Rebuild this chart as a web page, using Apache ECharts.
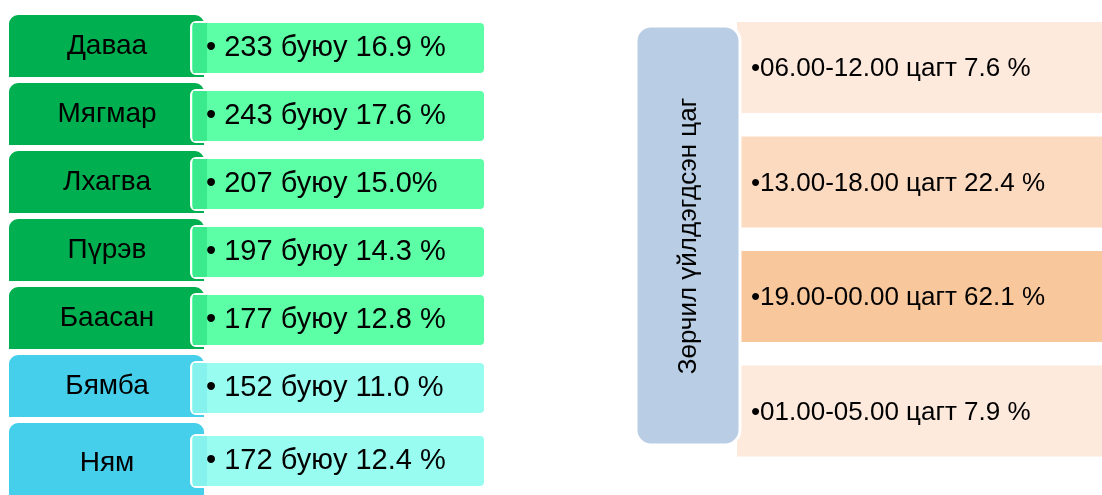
<!DOCTYPE html>
<html><head><meta charset="utf-8">
<script src="https://cdn.jsdelivr.net/npm/echarts@6/dist/echarts.min.js"></script>
<style>html,body{margin:0;padding:0;background:#fff}#c{width:1102px;height:495px}</style>
</head><body><div id="c"></div>
<script>
const days = ['Даваа', 'Мягмар', 'Лхагва', 'Пүрэв', 'Баасан', 'Бямба', 'Ням'];
const counts = [233, 243, 207, 197, 177, 152, 172];
const pctText = ['16.9 %', '17.6 %', '15.0%', '14.3 %', '12.8 %', '11.0 %', '12.4 %'];
const dayKind = ['weekday', 'weekday', 'weekday', 'weekday', 'weekday', 'weekend', 'weekend'];
const slots = ['06.00-12.00', '13.00-18.00', '19.00-00.00', '01.00-05.00'];
const slotShares = [7.6, 22.4, 62.1, 7.9];
const sideTitle = 'Зөрчил үйлдэгдсэн цаг';

const FONT = '"Liberation Sans", Arial, sans-serif';
const kindColors = {
  weekday: { tab: '#00B050', box: '#5CFFA5', strip: '#3BEA8C' },
  weekend: { tab: '#45CFEA', box: '#99FCF1', strip: '#86F2EE' }
};
function slotColor(v) {
  if (v > 50) return '#F9C79C';
  if (v > 15) return '#FBDAC0';
  return '#FDEADC';
}

const chart = echarts.init(document.getElementById('c'), null, { renderer: 'canvas' });
chart.setOption({
  animation: false,
  backgroundColor: '#ffffff',
  grid: [
    { left: 8, top: 14, width: 477, height: 476 },
    { left: 737, top: 22, right: 0, height: 458 }
  ],
  xAxis: [
    { gridIndex: 0, type: 'value', min: 0, max: 1, show: false },
    { gridIndex: 1, type: 'value', min: 0, max: 1, show: false }
  ],
  yAxis: [
    { gridIndex: 0, type: 'category', data: days, inverse: true, show: false },
    { gridIndex: 1, type: 'category', data: slots, inverse: true, show: false }
  ],
  graphic: [
    { type: 'rect', z: 100, shape: { x: 636, y: 26, width: 104, height: 419, r: 15 },
      style: { fill: '#B9CDE5', stroke: '#ffffff', lineWidth: 3 } },
    { type: 'text', z: 101, x: 689, y: 236, rotation: Math.PI / 2,
      style: { text: sideTitle, font: '26px ' + FONT, fill: '#000', align: 'center', verticalAlign: 'middle' } }
  ],
  series: [
    {
      type: 'custom', xAxisIndex: 0, yAxisIndex: 0,
      data: days.map((d, i) => [0, i]),
      encode: { x: 0, y: 1 },
      renderItem: function (params, api) {
        const i = api.value(1);
        const cs = params.coordSys;
        const band = api.size([0, 1])[1];
        const top = api.coord([0, i])[1] - band / 2;
        const c = kindColors[dayKind[i]];
        const isLast = i === days.length - 1;
        const tabH = isLast ? band + 20 : band - 4;
        const off = isLast ? 5 : 0;
        return {
          type: 'group',
          children: [
            { type: 'rect', shape: { x: cs.x, y: top, width: 197, height: tabH, r: [10, 10, 0, 0] },
              style: { fill: c.tab, stroke: '#ffffff', lineWidth: 2 } },
            { type: 'rect', shape: { x: cs.x + 183, y: top + 8 + off, width: cs.width - 183, height: 52, r: 5 },
              style: { fill: c.box, stroke: '#ffffff', lineWidth: 2 } },
            { type: 'rect', shape: { x: cs.x + 185, y: top + 9 + off, width: 14, height: 50 },
              style: { fill: c.strip } },
            { type: 'text', x: cs.x + 99, y: top + (isLast ? 41 : 32),
              style: { text: days[i], font: '28px ' + FONT, fill: '#000', align: 'center', verticalAlign: 'middle' } },
            { type: 'text', x: cs.x + 198, y: top + 34 + off,
              style: { text: '• ' + counts[i] + ' буюу ' + pctText[i], font: '29px ' + FONT, fill: '#000', align: 'left', verticalAlign: 'middle' } }
          ]
        };
      }
    },
    {
      type: 'custom', xAxisIndex: 1, yAxisIndex: 1,
      data: slots.map((s, i) => [0, i]),
      encode: { x: 0, y: 1 },
      renderItem: function (params, api) {
        const i = api.value(1);
        const cs = params.coordSys;
        const band = api.size([0, 1])[1];
        const top = api.coord([0, i])[1] - band / 2;
        return {
          type: 'group',
          children: [
            { type: 'rect', shape: { x: cs.x, y: top, width: cs.width + 10, height: 91 },
              style: { fill: slotColor(slotShares[i]) } },
            { type: 'text', x: cs.x + 14, y: top + 47,
              style: { text: '•' + slots[i] + ' цагт ' + slotShares[i] + ' %', font: '26px ' + FONT, fill: '#000', align: 'left', verticalAlign: 'middle' } }
          ]
        };
      }
    }
  ]
});
</script>
</body></html>
